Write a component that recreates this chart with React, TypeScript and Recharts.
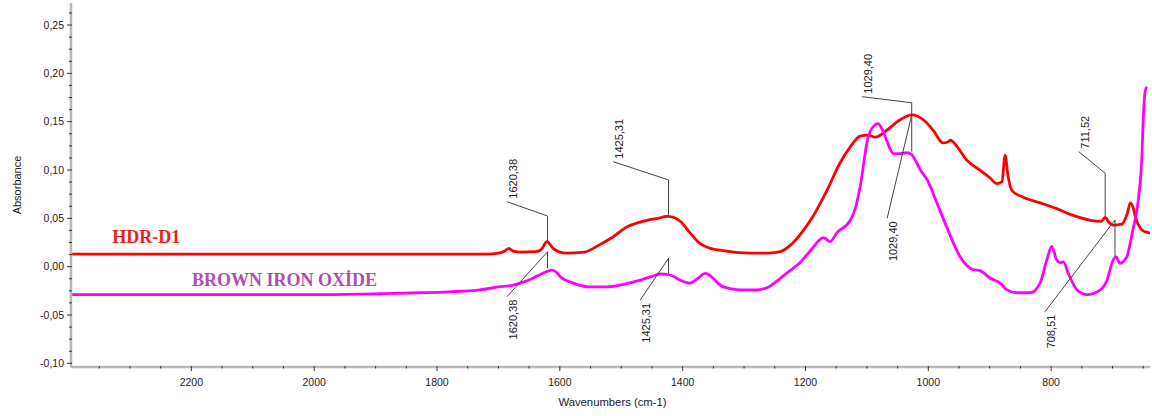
import { LineChart, Line, XAxis, YAxis, ReferenceLine, ReferenceDot } from "recharts"

// HDR-D1 spectrum (wavenumber cm-1 / absorbance)
const HDR_WAVENUMBERS = [
  2396, 2200, 2000, 1800, 1720, 1700, 1690, 1683, 1676, 1665, 1640, 1630, 1621, 1611, 1600, 1590,
  1560, 1540, 1513, 1491, 1458, 1440, 1426, 1415, 1404, 1388, 1372, 1355, 1339, 1290, 1260, 1241,
  1225, 1209, 1188, 1165, 1144, 1127, 1111, 1098, 1086, 1068, 1046, 1027, 1008, 992, 976, 968, 964,
  953, 937, 916, 900, 888, 880, 875, 870, 864, 846, 818, 791, 764, 736, 718, 712, 706, 699, 685, 676,
  671, 666, 663, 655, 647, 639,
]
const HDR_ABSORBANCE = [
  0.013, 0.013, 0.013, 0.013, 0.013, 0.014, 0.016, 0.019, 0.016, 0.015, 0.0155, 0.018, 0.026, 0.019,
  0.015, 0.014, 0.015, 0.021, 0.031, 0.041, 0.048, 0.05, 0.052, 0.051, 0.047, 0.035, 0.024, 0.019,
  0.017, 0.014, 0.014, 0.0155, 0.022, 0.033, 0.052, 0.079, 0.107, 0.124, 0.135, 0.136, 0.134, 0.141,
  0.152, 0.157, 0.152, 0.141, 0.128, 0.129, 0.131, 0.124, 0.11, 0.1, 0.092, 0.086, 0.088, 0.115,
  0.093, 0.079, 0.072, 0.066, 0.06, 0.053, 0.048, 0.047, 0.051, 0.046, 0.043, 0.044, 0.055, 0.066,
  0.06, 0.052, 0.04, 0.036, 0.035,
]

// Brown iron oxide spectrum
const OXIDE_WAVENUMBERS = [
  2396, 2200, 2000, 1893, 1828, 1780, 1730, 1700, 1676, 1655, 1638, 1625, 1613, 1605, 1600, 1578,
  1551, 1525, 1502, 1469, 1450, 1437, 1426, 1415, 1404, 1388, 1375, 1363, 1352, 1339, 1320, 1306,
  1280, 1260, 1241, 1225, 1209, 1190, 1171, 1160, 1149, 1127, 1118, 1111, 1098, 1088, 1082, 1075,
  1068, 1057, 1045, 1035, 1027, 1013, 1002, 986, 970, 948, 927, 916, 899, 883, 872, 856, 834, 818,
  807, 799, 791, 785, 780, 772, 758, 742, 720, 709, 699, 694, 688, 677, 667, 658, 652, 650, 647, 644,
]
const OXIDE_ABSORBANCE = [
  -0.029, -0.029, -0.029, -0.028, -0.027, -0.026, -0.024, -0.021, -0.019, -0.015, -0.01, -0.006,
  -0.0035, -0.006, -0.01, -0.017, -0.021, -0.021, -0.019, -0.014, -0.01, -0.0076, -0.008, -0.01,
  -0.014, -0.017, -0.012, -0.007, -0.011, -0.019, -0.023, -0.024, -0.024, -0.021, -0.012, -0.004,
  0.004, 0.018, 0.03, 0.026, 0.035, 0.048, 0.062, 0.083, 0.134, 0.146, 0.148, 0.142, 0.131, 0.117,
  0.117, 0.118, 0.116, 0.1, 0.09, 0.066, 0.041, 0.01, -0.003, -0.004, -0.012, -0.017, -0.024, -0.027,
  -0.027, -0.017, 0.007, 0.021, 0.007, 0.004, 0.005, -0.007, -0.024, -0.029, -0.024, -0.014, 0.007,
  0.01, 0.0035, 0.01, 0.038, 0.069, 0.117, 0.152, 0.181, 0.186,
]

const X_LABELED = [2200, 2000, 1800, 1600, 1400, 1200, 1000, 800]
const X_MINOR = [2350, 2300, 2250, 2150, 2100, 2050, 1950, 1900, 1850, 1750, 1700, 1650, 1550, 1500, 1450, 1350, 1300, 1250, 1150, 1100, 1050, 950, 900, 850, 750, 700, 650]
const Y_LABELED = [-0.1, -0.05, 0, 0.05, 0.1, 0.15, 0.2, 0.25]

// peak markers: label, peak position, elbow height, leader end, text above or below
const PEAKS = [
  { label: "1620,38", x: 1620, from: 0.026, elbow: 0.0524, endX: 1686, endY: 0.0672, above: true },
  { label: "1620,38", x: 1620, from: -0.0017, elbow: 0.0155, endX: 1686, endY: -0.031, above: false },
  { label: "1425,31", x: 1423, from: 0.0524, elbow: 0.0897, endX: 1513, endY: 0.1086, above: true },
  { label: "1425,31", x: 1423, from: -0.0068, elbow: 0.0087, endX: 1469, endY: -0.0344, above: false },
  { label: "1029,40", x: 1027, from: 0.157, elbow: 0.1696, endX: 1108, endY: 0.1759, above: true },
  { label: "1029,40", x: 1027, from: 0.119, elbow: 0.157, endX: 1067, endY: 0.05, above: false },
  { label: "711,52", x: 712, from: 0.0517, elbow: 0.0966, endX: 755, endY: 0.119, above: true },
  { label: "708,51", x: 696, from: 0.0103, elbow: 0.0483, endX: 810, endY: -0.0466, above: false },
]

const SERIES_LABELS = [
  { text: "HDR-D1", x: 2329, y: 0.0248, color: "#ee1c1c" },
  { text: "BROWN IRON OXİDE", x: 2199, y: -0.02, color: "#b04db0" },
]

const hdrData = HDR_WAVENUMBERS.map((w, i) => ({ w, a: HDR_ABSORBANCE[i] }))
const oxideData = OXIDE_WAVENUMBERS.map((w, i) => ({ w, a: OXIDE_ABSORBANCE[i] }))
const xTicks = [...X_LABELED, ...X_MINOR].sort((a, b) => b - a)
const yTicks: number[] = []
Y_LABELED.forEach((v, i) => {
  yTicks.push(v)
  if (i < Y_LABELED.length - 1) [1, 2, 3].forEach((k) => yTicks.push(+(v + k * 0.0125).toFixed(4)))
})
;[0.2625].forEach((v) => yTicks.push(v))

const SANS = "'Liberation Sans', Arial, sans-serif"
const SERIF = "'Liberation Serif', 'Times New Roman', serif"

const isMajorY = (v: number) => Math.abs(v * 20 - Math.round(v * 20)) < 1e-6

function XTick({ x, y, payload }: any) {
  const major = X_LABELED.includes(payload.value)
  return (
    <g>
      <line x1={x} x2={x} y1={y - 1} y2={y + (major ? 4 : 1.5)} stroke="#333" strokeWidth={1} />
      {major && (
        <text x={x} y={y + 19} textAnchor="middle" fontFamily={SANS} fontSize={10.5} fill="#222">
          {payload.value}
        </text>
      )}
    </g>
  )
}

function YTick({ x, y, payload }: any) {
  const major = isMajorY(payload.value)
  return (
    <g>
      <line x1={x + 1} x2={x - (major ? 4 : 2)} y1={y} y2={y} stroke="#333" strokeWidth={1} />
      {major && (
        <text x={x - 7} y={y} dy="0.35em" textAnchor="end" fontFamily={SANS} fontSize={10.5} fill="#222">
          {payload.value.toFixed(2).replace(".", ",")}
        </text>
      )}
    </g>
  )
}

const peakText = (label: string, above: boolean) => (props: any) => {
  const tx = props.cx + 10
  const ty = above ? props.cy - 3 : props.cy + 3
  return (
    <text
      x={tx}
      y={ty}
      transform={`rotate(-90 ${tx} ${ty})`}
      textAnchor={above ? "start" : "end"}
      fontFamily={SANS}
      fontSize={11}
      fill="#222"
    >
      {label}
    </text>
  )
}

const seriesText = (text: string, color: string) => (props: any) => (
  <text x={props.cx} y={props.cy} fontFamily={SERIF} fontWeight="bold" fontSize={18} fill={color}>
    {text}
  </text>
)

export default function App() {
  return (
    <div style={{ width: 1152, height: 416 }}>
      <style>{`body{margin:0}`}</style>
      <LineChart width={1152} height={416} margin={{ top: 3, right: 2, bottom: 0, left: 0 }}>
        <XAxis
          type="number"
          dataKey="w"
          domain={[639, 2396]}
          reversed
          allowDataOverflow
          ticks={xTicks}
          interval={0}
          height={49}
          tickSize={0}
          tickMargin={0}
          tickLine={false}
          axisLine={{ stroke: "#b8b8b8", strokeWidth: 2.5 }}
          tick={<XTick />}
          label={{
            content: ({ viewBox }: any) => (
              <text
                x={viewBox.x + viewBox.width / 2 + 2}
                y={viewBox.y + 39}
                textAnchor="middle"
                fontFamily={SANS}
                fontSize={11.3}
                fill="#222"
              >
                Wavenumbers (cm-1)
              </text>
            ),
          }}
        />
        <YAxis
          type="number"
          domain={[-0.1038, 0.2728]}
          allowDataOverflow
          ticks={yTicks}
          interval={0}
          width={71}
          tickSize={0}
          tickMargin={0}
          tickLine={false}
          axisLine={{ stroke: "#b8b8b8", strokeWidth: 2.5 }}
          tick={<YTick />}
          label={{
            content: ({ viewBox }: any) => {
              const cx = viewBox.x + 21
              const cy = viewBox.y + viewBox.height / 2
              return (
                <text
                  x={cx}
                  y={cy}
                  transform={`rotate(-90 ${cx} ${cy})`}
                  textAnchor="middle"
                  fontFamily={SANS}
                  fontSize={11}
                  fill="#222"
                >
                  Absorbance
                </text>
              )
            },
          }}
        />
        <Line
          data={hdrData}
          dataKey="a"
          type="monotone"
          stroke="#ff0000"
          strokeWidth={2.8}
          dot={false}
          isAnimationActive={false}
        />
        <Line
          data={oxideData}
          dataKey="a"
          type="monotone"
          stroke="#ff00ff"
          strokeWidth={2.8}
          dot={false}
          isAnimationActive={false}
        />
        {PEAKS.map((p, i) => (
          <ReferenceLine
            key={`v${i}`}
            segment={[{ x: p.x, y: p.from }, { x: p.x, y: p.elbow }]}
            stroke="#444"
            strokeWidth={1}
            ifOverflow="visible"
          />
        ))}
        {PEAKS.map((p, i) => (
          <ReferenceLine
            key={`d${i}`}
            segment={[{ x: p.x, y: p.elbow }, { x: p.endX, y: p.endY }]}
            stroke="#444"
            strokeWidth={1}
            ifOverflow="visible"
          />
        ))}
        {PEAKS.map((p, i) => (
          <ReferenceDot
            key={`t${i}`}
            x={p.endX}
            y={p.endY}
            r={0}
            ifOverflow="visible"
            shape={peakText(p.label, p.above)}
          />
        ))}
        {SERIES_LABELS.map((s) => (
          <ReferenceDot
            key={s.text}
            x={s.x}
            y={s.y}
            r={0}
            ifOverflow="visible"
            shape={seriesText(s.text, s.color)}
          />
        ))}
      </LineChart>
    </div>
  )
}
